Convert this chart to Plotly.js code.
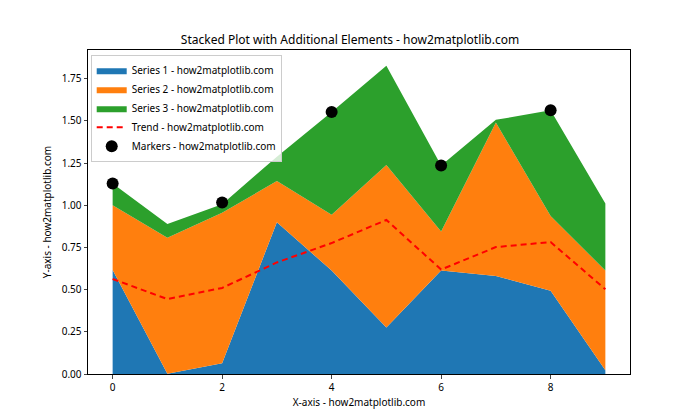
<!DOCTYPE html>
<html>
<head>
<meta charset="utf-8">
<script src="https://cdn.plot.ly/plotly-3.0.1.min.js"></script>
<style>body{margin:0;background:#fff}#chart{width:700px;height:420px}</style>
</head>
<body>
<div id="chart"></div>
<script>
const xVals = [0, 1, 2, 3, 4, 5, 6, 7, 8, 9];
const series1 = [0.617, 0.002, 0.064, 0.899, 0.613, 0.276, 0.613, 0.581, 0.494, 0.022];
const series2 = [0.383, 0.806, 0.892, 0.244, 0.331, 0.962, 0.232, 0.909, 0.443, 0.591];
const series3 = [0.129, 0.081, 0.050, 0.145, 0.609, 0.589, 0.391, 0.016, 0.626, 0.397];
const trend = [0.563, 0.444, 0.510, 0.661, 0.776, 0.913, 0.619, 0.752, 0.782, 0.502];
const markerX = [0, 2, 4, 6, 8];
const markerY = [1.129, 1.016, 1.553, 1.236, 1.563];
const names = ['Series 1 - how2matplotlib.com', 'Series 2 - how2matplotlib.com', 'Series 3 - how2matplotlib.com'];
const colors = ['#1f77b4', '#ff7f0e', '#2ca02c'];
const font = 'Noto Sans, DejaVu Sans, sans-serif';

const stacks = [series1, series2, series3].map((s, i) => ({
  x: xVals, y: s, name: names[i], type: 'scatter', mode: 'lines',
  stackgroup: 'one', line: {width: 0, color: colors[i]}, fillcolor: colors[i]
}));

const data = stacks.concat([
  {x: xVals, y: trend, name: 'Trend - how2matplotlib.com', type: 'scatter', mode: 'lines',
   line: {color: '#ff0000', width: 2, dash: '6px,4px'}},
  {x: markerX, y: markerY, name: 'Markers - how2matplotlib.com', type: 'scatter', mode: 'markers',
   marker: {color: '#000000', size: 12}}
]);

const layout = {
  width: 700, height: 420,
  margin: {l: 88, r: 70, t: 50, b: 46},
  paper_bgcolor: '#fff', plot_bgcolor: '#fff',
  font: {family: font, size: 10, color: '#000'},
  title: {text: 'Stacked Plot with Additional Elements - how2matplotlib.com',
          font: {size: 12}, x: 0.5, xanchor: 'center', y: 0.895, yanchor: 'bottom'},
  xaxis: {range: [-0.45, 9.45], tickvals: [0, 2, 4, 6, 8], ticks: 'outside', ticklen: 3.5,
          showline: true, mirror: true, linecolor: '#000', linewidth: 1, showgrid: false, zeroline: false,
          title: {text: 'X-axis - how2matplotlib.com', font: {size: 10}, standoff: 6}},
  yaxis: {range: [0, 1.92], dtick: 0.25, tick0: 0, tickformat: '.2f', ticks: 'outside', ticklen: 3.5,
          showline: true, mirror: true, linecolor: '#000', linewidth: 1, showgrid: false, zeroline: false,
          title: {text: 'Y-axis - how2matplotlib.com', font: {size: 10}, standoff: 8}},
  legend: {x: 0.005, y: 0.985, xanchor: 'left', yanchor: 'top', bgcolor: 'rgba(255,255,255,0.8)',
           bordercolor: '#ccc', borderwidth: 1, font: {size: 10}, traceorder: 'normal', tracegroupgap: 0,
           itemwidth: 30},
  showlegend: true
};

Plotly.newPlot('chart', data, layout, {displayModeBar: false});
</script>
</body>
</html>
